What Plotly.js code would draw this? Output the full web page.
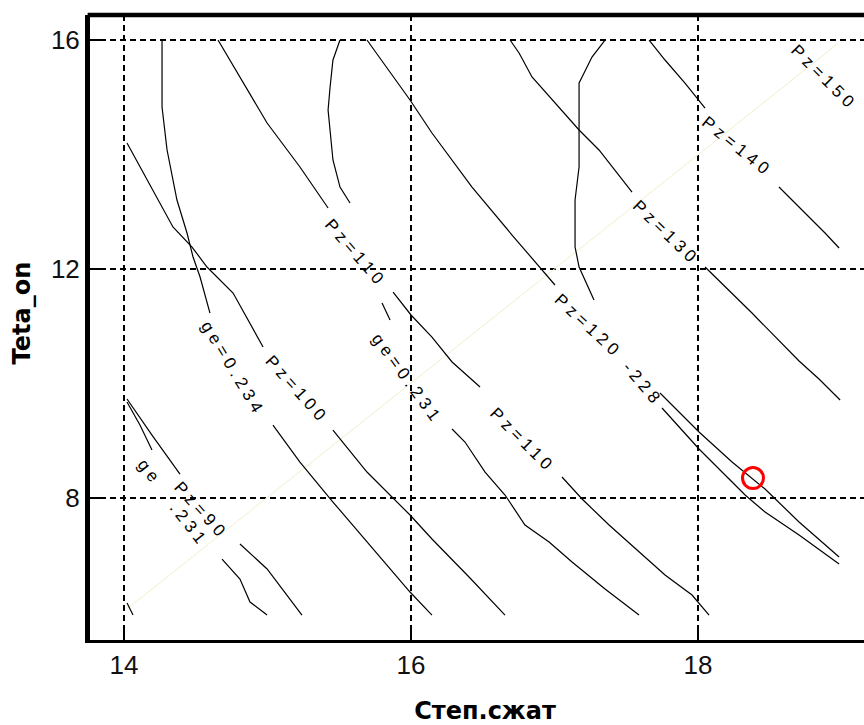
<!DOCTYPE html>
<html>
<head>
<meta charset="utf-8">
<script src="https://cdn.plot.ly/plotly-3.0.1.min.js"></script>
<style>
html,body{margin:0;padding:0;overflow:hidden;background:#fff;}
#chart{width:900px;height:725px;}
.annotation-text{letter-spacing:4.5px;}
g.annotation[data-index="13"] text{letter-spacing:0;}
</style>
</head>
<body>
<div id="chart"></div>
<script>
// ---- data (x = Степ.сжат, y = Teta_on) ----
const xTicks = [14, 16, 18];
const yTicks = [8, 12, 16];

const pz90X = [14.021, 14.195, 14.390, null, 14.808, 14.997, 15.240];
const pz90Y = [9.729, 9.100, 8.419, null, 7.197, 6.760, 5.956];

const ge231aX = [14.021, 14.111, 14.195, null, 14.683, 14.808, 14.878, 14.997];
const ge231aY = [9.677, 9.275, 8.838, null, 6.934, 6.585, 6.183, 5.956];

const stubX = [14.021, 14.063];
const stubY = [6.166, 5.956];

const ge234X = [14.265, 14.265, 14.300, 14.369, 14.439, 14.481, 14.530, 14.599, null, 15.038, 15.226, 15.456, 15.693, 15.993, 16.146];
const ge234Y = [16, 14.830, 14.079, 13.205, 12.629, 12.210, 11.860, 11.231, null, 9.275, 8.629, 7.930, 7.231, 6.358, 5.956];

const pz100X = [14.021, 14.341, 14.474, 14.578, 14.760, 14.969, null, 15.456, 15.693, 15.993, 16.146, 16.411, 16.655];
const pz100Y = [14.201, 12.734, 12.384, 12.035, 11.581, 10.638, null, 9.188, 8.454, 7.703, 7.284, 6.603, 5.956];

const pz110X = [14.655, 14.997, 15.226, 15.422, null, 15.875, 16.0, 16.146, 16.286, 16.481, null, 17.052, 17.192, 17.380, 17.589, 17.770, 17.958, 18.077];
const pz110Y = [16, 14.550, 13.782, 13.066, null, 11.598, 11.197, 10.812, 10.376, 9.939, null, 8.367, 7.983, 7.528, 7.057, 6.655, 6.306, 5.956];

const ge231bX = [15.505, 15.456, 15.436, 15.422, 15.456, 15.505, 15.575, null, 15.798, 15.854, null, 16.286, 16.376, 16.516, 16.655, 16.794, 16.962, 17.122, 17.352, 17.589];
const ge231bY = [16, 15.651, 15.179, 14.777, 13.904, 13.432, 13.153, null, 11.406, 11.109, null, 9.205, 8.978, 8.454, 8.052, 7.528, 7.231, 6.882, 6.410, 5.956];

const pz120X = [15.693, 15.993, 16.146, 16.425, 16.704, 17.003, null, 17.735, 18.007, 18.237, 18.467, 18.704, 18.983];
const pz120Y = [16, 14.952, 14.376, 13.432, 12.594, 11.721, null, 9.834, 9.153, 8.629, 8.157, 7.581, 6.969];

const ge228X = [17.352, 17.261, 17.192, 17.171, 17.171, 17.143, 17.143, 17.171, 17.275, null, 17.749, 18.007, 18.328, 18.467, 18.704, 18.983];
const ge228Y = [16, 15.703, 15.354, 15.249, 13.782, 13.205, 12.384, 12.035, 11.459, null, 9.572, 8.856, 8.052, 7.755, 7.354, 6.847];

const pz130X = [16.690, 16.753, 16.843, 16.983, 17.171, 17.310, 17.540, null, 18.049, 18.237, 18.376, 18.704, 18.843, 18.990];
const pz130Y = [16, 15.773, 15.354, 14.952, 14.428, 14.079, 13.345, null, 12.035, 11.581, 11.231, 10.393, 10.079, 9.712];

const pz140X = [17.659, 17.770, 17.909, 18.007, 18.049, null, 18.564, 18.704, 18.885, 18.983];
const pz140Y = [16, 15.651, 15.249, 14.952, 14.812, null, 13.432, 13.083, 12.629, 12.367];

const diagX = [14.02, 18.98];
const diagY = [6.06, 15.95];

const optX = [18.383];
const optY = [8.349];

const labelText  = ['Pz=150', 'Pz=140', 'Pz=130', 'Pz=120', '-228', 'Pz=110', 'Pz=110', 'ge=0.231', 'Pz=100', 'ge=0.234', 'Pz=90', 'ge', '.231'];
const labelX     = [18.878, 18.272, 17.777, 17.240, 17.617, 15.617, 16.780, 15.972, 15.206, 14.760, 14.537, 14.181, 14.453];
const labelY     = [15.354, 14.148, 12.646, 11.004, 9.991, 12.279, 9.013, 10.096, 9.904, 10.271, 7.790, 8.454, 7.546];
const labelAngle = [45, 39, 44, 43, 50, 49, 45, 54, 48, 59, 48, 52, 52];

// ---- traces ----
const lineStyle = {color: '#000', width: 1.2};
const contourSets = [
  [pz90X, pz90Y, 'Pz=90'], [ge231aX, ge231aY, 'ge=0.231'], [stubX, stubY, ''],
  [ge234X, ge234Y, 'ge=0.234'], [pz100X, pz100Y, 'Pz=100'], [pz110X, pz110Y, 'Pz=110'],
  [ge231bX, ge231bY, 'ge=0.231'], [pz120X, pz120Y, 'Pz=120'], [ge228X, ge228Y, 'ge=0.228'],
  [pz130X, pz130Y, 'Pz=130'], [pz140X, pz140Y, 'Pz=140']
];

const traces = [{
  x: diagX, y: diagY, mode: 'lines', type: 'scatter',
  line: {color: '#f4eecb', width: 1}, hoverinfo: 'skip', showlegend: false
}];
contourSets.forEach(function (s) {
  traces.push({x: s[0], y: s[1], name: s[2], mode: 'lines', type: 'scatter',
    line: lineStyle, connectgaps: false, showlegend: false});
});
traces.push({
  x: optX, y: optY, mode: 'markers', type: 'scatter', showlegend: false,
  marker: {symbol: 'circle-open', size: 21, color: '#ff0000', line: {width: 3, color: '#ff0000'}}
});

const annotations = labelText.map(function (t, i) {
  return {x: labelX[i], y: labelY[i], xref: 'x', yref: 'y', text: t, showarrow: false,
    textangle: labelAngle[i], xanchor: 'center', yanchor: 'middle',
    font: {family: 'Liberation Sans, Arial, sans-serif', size: 17, color: '#000'}};
});
annotations.push({
  xref: 'paper', yref: 'paper', x: -0.086, y: 0.523, text: 'Teta_on', showarrow: false,
  textangle: -90, xanchor: 'center', yanchor: 'middle',
  font: {family: 'DejaVu Sans, sans-serif', size: 24, color: '#000', weight: 'bold'}
});

const layout = {
  width: 900, height: 725,
  margin: {l: 90, r: 20, t: 15, b: 85, pad: 0},
  paper_bgcolor: '#fff', plot_bgcolor: '#fff',
  showlegend: false,
  xaxis: {
    range: [13.763, 19.268], tickvals: xTicks, ticktext: xTicks.map(String),
    ticks: 'inside', ticklen: 10, tickwidth: 2, tickcolor: '#000',
    showline: true, linewidth: 2.5, linecolor: '#000', mirror: false,
    showgrid: true, gridcolor: '#000', gridwidth: 1.5, griddash: '6px,4px',
    zeroline: false, automargin: false,
    tickfont: {family: 'Liberation Sans, Arial, sans-serif', size: 26, color: '#111'},
    title: {text: 'Степ.сжат', standoff: 35,
      font: {family: 'DejaVu Sans, sans-serif', size: 24, color: '#000', weight: 'bold'}}
  },
  yaxis: {
    range: [5.52, 16.437], tickvals: yTicks, ticktext: yTicks.map(String),
    ticks: 'inside', ticklen: 15, tickwidth: 2, tickcolor: '#000',
    showline: true, linewidth: 5, linecolor: '#000', mirror: false,
    showgrid: true, gridcolor: '#000', gridwidth: 1.5, griddash: '6px,4px',
    zeroline: false, automargin: false,
    tickfont: {family: 'Liberation Sans, Arial, sans-serif', size: 26, color: '#111'}
  },
  shapes: [{type: 'line', xref: 'paper', yref: 'paper', x0: -0.003, x1: 1, y0: 1, y1: 1,
    line: {color: '#000', width: 4.5}}],
  annotations: annotations
};

Plotly.newPlot('chart', traces, layout, {displayModeBar: false, staticPlot: true});
</script>
</body>
</html>
